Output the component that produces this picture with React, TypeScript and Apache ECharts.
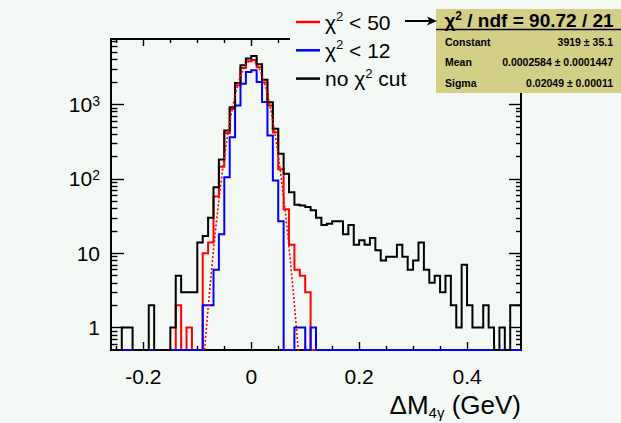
import React, { useEffect, useRef } from "react";
import * as echarts from "echarts";

const FONT = '"Liberation Sans", Arial, Helvetica, sans-serif';
const BG = "#f4f9f6";
const STATS_BG = "#d4cf87";

// ---- histogram binning (bin k covers [binLow + k*binWidth, binLow + (k+1)*binWidth]) ----
const binLow = -0.26;
const binWidth = 0.01;

// no chi2 cut (black)
const countsNoCut = [
  0, 0, 1, 1, 0, 0, 0, 2, 0, 0,
  0, 1, 5, 3, 3, 3, 14, 17, 30, 77,
  182, 448, 922, 1942, 3365, 4140, 4490, 3470, 2160, 1076,
  472, 217, 117, 66, 45, 44, 42, 38, 30, 24,
  25, 27, 27, 18, 24, 13, 15, 13, 16, 11,
  8, 9, 9, 13, 9, 6, 8, 14, 6, 4,
  5, 3, 5, 2, 1, 7, 2, 1, 1, 2,
  1, 0, 1, 0, 2, 2,
];
// chi2 < 50 (red)
const countsChi50 = [
  0, 0, 0, 0, 0, 0, 0, 0, 0, 0,
  0, 0, 2, 0, 1, 0, 0, 10, 14, 58,
  145, 415, 870, 1820, 3100, 3820, 3980, 3180, 1980, 970,
  420, 135, 39, 13, 6, 5, 3, 0, 0, 0,
  0, 0, 0, 0, 0, 0, 0, 0, 0, 0,
  0, 0, 0, 0, 0, 0, 0, 0, 0, 0,
  0, 0, 0, 0, 0, 0, 0, 0, 0, 0,
  0, 0, 0, 0, 0, 0,
];
// chi2 < 12 (blue)
const countsChi12 = [
  0, 0, 0, 0, 0, 0, 0, 0, 0, 0,
  0, 0, 0, 0, 0, 0, 0, 2, 2, 6,
  18, 105, 364, 973, 1905, 2735, 2882, 2004, 1077, 383,
  95, 27, 0, 0, 1, 1, 0, 1, 0, 0,
  0, 0, 0, 0, 0, 0, 0, 0, 0, 0,
  0, 0, 0, 0, 0, 0, 0, 0, 0, 0,
  0, 0, 0, 0, 0, 0, 0, 0, 0, 0,
  0, 0, 0, 0, 0, 0,
];

// ---- gaussian fit parameters (from the stats box) ----
const fitConstant = 3919;
const fitMean = 0.0002584;
const fitSigma = 0.02049;

// ---- axes ----
const xMin = -0.26;
const xMax = 0.5;
const yMinCount = 0.5;
const yMaxCount = 7600;
const xMajorTicks = [-0.2, 0, 0.2, 0.4];
const xTickLabels = ["-0.2", "0", "0.2", "0.4"];
const xMinorTicks = [-0.25, -0.15, -0.1, -0.05, 0.05, 0.1, 0.15, 0.25, 0.3, 0.35, 0.45];
const yMajorCounts = [1, 10, 100, 1000];
const yTickLabels = ["1", "10", "10{s|2}", "10{s|3}"];
const yMinorCounts = [
  0.6, 0.7, 0.8, 0.9,
  2, 3, 4, 5, 6, 7, 8, 9,
  20, 30, 40, 50, 60, 70, 80, 90,
  200, 300, 400, 500, 600, 700, 800, 900,
  2000, 3000, 4000, 5000, 6000, 7000,
];

// ---- texts ----
const seriesNames = ["χ² < 50", "χ² < 12", "no χ² cut"];
const legendRich = ["χ{s|2} < 50", "χ{s|2} < 12", "no χ{s|2} cut"];
const statsTitle = "χ{s|2} / ndf = 90.72 / 21";
const statsLabels = ["Constant", "Mean", "Sigma"];
const statsValues = ["3919 ± 35.1", "0.0002584 ± 0.0001447", "0.02049 ± 0.00011"];
const xTitle = "ΔM{sub|4γ} (GeV)";

const Y_MIN = Math.log10(yMinCount);
const Y_MAX = Math.log10(yMaxCount);
const toLog = (c: number) => (c > 0 ? Math.log10(c) : Y_MIN);

function stepData(counts: number[]) {
  const pts: number[][] = counts.map((c, i) => [binLow + i * binWidth, toLog(c)]);
  pts.push([binLow + counts.length * binWidth, toLog(counts[counts.length - 1])]);
  return pts;
}

function fitData() {
  const pts: number[][] = [];
  for (let i = 0; i <= 130; i++) {
    const x = -0.13 + i * 0.002;
    const z = (x - fitMean) / fitSigma;
    pts.push([x, Math.log10(fitConstant) - (0.5 * z * z) / Math.LN10]);
  }
  return pts;
}

const yMajor = yMajorCounts.map((c) => Math.log10(c));
const yMinor = yMinorCounts.map((c) => Math.log10(c));

export default function App() {
  const ref = useRef<HTMLDivElement>(null);

  useEffect(() => {
    if (!ref.current) return;
    const chart = echarts.init(ref.current, undefined, { renderer: "svg" });

    const tickLine = { color: "#000", width: 1.4 };
    const frameLine = { color: "#000", width: 2 };
    const hiddenLine = { show: false, onZero: false };
    const xBase = { type: "value", min: xMin, max: xMax, splitLine: { show: false } };
    const yBase = { type: "value", min: Y_MIN, max: Y_MAX, splitLine: { show: false } };

    const colors = ["#ff0000", "#0000ff", "#000000"];
    const countsList = [countsChi50, countsChi12, countsNoCut];

    const histSeries = countsList.map((counts, i) => ({
      type: "line",
      name: seriesNames[i],
      data: stepData(counts),
      step: "end",
      symbol: "none",
      showSymbol: false,
      clip: false,
      silent: true,
      z: 2 + i,
      color: colors[i],
      itemStyle: { color: colors[i] },
      lineStyle: { color: colors[i], width: 2, join: "miter", cap: "square" },
      emphasis: { disabled: true },
    }));

    const option: any = {
      animation: false,
      backgroundColor: BG,
      textStyle: { fontFamily: FONT },
      grid: { left: 111, right: 100, top: 39, bottom: 73, containLabel: false },
      xAxis: [
        {
          ...xBase,
          position: "bottom",
          axisLine: { show: true, onZero: false, lineStyle: frameLine },
          axisTick: { show: true, inside: true, length: 8, customValues: xMajorTicks, lineStyle: tickLine },
          axisLabel: {
            show: true,
            customValues: xMajorTicks,
            formatter: (v: number) => {
              const idx = xMajorTicks.findIndex((t) => Math.abs(t - v) < 1e-9);
              return idx >= 0 ? xTickLabels[idx] : "";
            },
            color: "#000",
            fontSize: 21,
            fontFamily: FONT,
            margin: 16,
          },
        },
        {
          ...xBase,
          position: "bottom",
          axisLine: hiddenLine,
          axisTick: { show: true, inside: true, length: 4, customValues: xMinorTicks, lineStyle: tickLine },
          axisLabel: { show: false },
        },
        {
          ...xBase,
          position: "top",
          axisLine: { show: true, onZero: false, lineStyle: frameLine },
          axisTick: { show: true, inside: true, length: 7, customValues: xMajorTicks, lineStyle: tickLine },
          axisLabel: { show: false },
        },
        {
          ...xBase,
          position: "top",
          axisLine: hiddenLine,
          axisTick: { show: true, inside: true, length: 4, customValues: xMinorTicks, lineStyle: tickLine },
          axisLabel: { show: false },
        },
      ],
      yAxis: [
        {
          ...yBase,
          position: "left",
          axisLine: { show: true, onZero: false, lineStyle: frameLine },
          axisTick: { show: true, inside: true, length: 13, customValues: yMajor, lineStyle: tickLine },
          axisLabel: {
            show: true,
            customValues: yMajor,
            formatter: (v: number) => {
              const idx = yMajor.findIndex((t) => Math.abs(t - v) < 1e-6);
              return idx >= 0 ? yTickLabels[idx] : "";
            },
            color: "#000",
            fontSize: 21,
            fontFamily: FONT,
            margin: 11,
            rich: { s: { fontSize: 14, fontFamily: FONT, color: "#000", verticalAlign: "top", lineHeight: 14 } },
          },
        },
        {
          ...yBase,
          position: "left",
          axisLine: hiddenLine,
          axisTick: { show: true, inside: true, length: 6.5, customValues: yMinor, lineStyle: tickLine },
          axisLabel: { show: false },
        },
        {
          ...yBase,
          position: "right",
          axisLine: { show: true, onZero: false, lineStyle: frameLine },
          axisTick: { show: true, inside: true, length: 12, customValues: yMajor, lineStyle: tickLine },
          axisLabel: { show: false },
        },
        {
          ...yBase,
          position: "right",
          axisLine: hiddenLine,
          axisTick: { show: true, inside: true, length: 5, customValues: yMinor, lineStyle: tickLine },
          axisLabel: { show: false },
        },
      ],
      legend: {
        orient: "vertical",
        left: 290,
        top: 6,
        padding: [4, 40, 8, 6],
        backgroundColor: BG,
        itemWidth: 24,
        itemHeight: 2.5,
        itemGap: 4.3,
        icon: "rect",
        selectedMode: false,
        data: seriesNames,
        formatter: (name: string) => legendRich[seriesNames.indexOf(name)],
        textStyle: {
          color: "#000",
          fontFamily: FONT,
          fontSize: 21,
          lineHeight: 24,
          rich: { s: { fontSize: 13, fontFamily: FONT, color: "#000", verticalAlign: "top", lineHeight: 13 } },
        },
        z: 10,
      },
      series: [
        ...histSeries,
        {
          type: "line",
          name: "fit",
          data: fitData(),
          symbol: "none",
          showSymbol: false,
          smooth: false,
          clip: true,
          silent: true,
          z: 6,
          color: "#ff0000",
          lineStyle: { color: "#ff0000", width: 1.6, type: [2, 2] },
          emphasis: { disabled: true },
        },
      ],
      graphic: [
        {
          type: "text",
          z: 50,
          style: {
            text: xTitle,
            x: 521,
            y: 405,
            align: "right",
            verticalAlign: "middle",
            font: `26px ${FONT}`,
            fill: "#000",
            lineHeight: 30,
            rich: { sub: { fontSize: 15, fontFamily: FONT, fill: "#000", verticalAlign: "bottom", lineHeight: 15 } },
          },
        },
        {
          type: "group",
          z: 100,
          children: [
            {
              type: "rect",
              shape: { x: 436, y: 9, width: 190, height: 84 },
              style: { fill: STATS_BG },
              z: 100,
            },
            {
              type: "line",
              shape: { x1: 436, y1: 29.5, x2: 621, y2: 29.5 },
              style: { stroke: "#000", lineWidth: 1.5 },
              z: 101,
            },
            {
              type: "text",
              z: 101,
              style: {
                text: statsTitle,
                x: 529,
                y: 20,
                align: "center",
                verticalAlign: "middle",
                font: `bold 19px ${FONT}`,
                fill: "#000",
                lineHeight: 20,
                rich: { s: { fontSize: 12, fontWeight: "bold", fontFamily: FONT, fill: "#000", verticalAlign: "top", lineHeight: 12 } },
              },
            },
            ...statsLabels.map((lab, i) => ({
              type: "text",
              z: 101,
              style: {
                text: lab,
                x: 445,
                y: 41.5 + i * 20.8,
                align: "left",
                verticalAlign: "middle",
                font: `bold 10.5px ${FONT}`,
                fill: "#000",
              },
            })),
            ...statsValues.map((val, i) => ({
              type: "text",
              z: 101,
              style: {
                text: val,
                x: 613,
                y: 41.5 + i * 20.8,
                align: "right",
                verticalAlign: "middle",
                font: `bold 10.5px ${FONT}`,
                fill: "#000",
              },
            })),
          ],
        },
        {
          type: "line",
          z: 120,
          shape: { x1: 405, y1: 21, x2: 430, y2: 21 },
          style: { stroke: "#000", lineWidth: 2 },
        },
        {
          type: "polygon",
          z: 120,
          shape: { points: [[437, 21], [427, 16.5], [429.5, 21], [427, 25.5]] },
          style: { fill: "#000" },
        },
      ],
    };

    chart.setOption(option);
    return () => chart.dispose();
  }, []);

  return (
    <div
      ref={ref}
      style={{ position: "fixed", left: 0, top: 0, width: 621, height: 423, background: BG }}
    />
  );
}
